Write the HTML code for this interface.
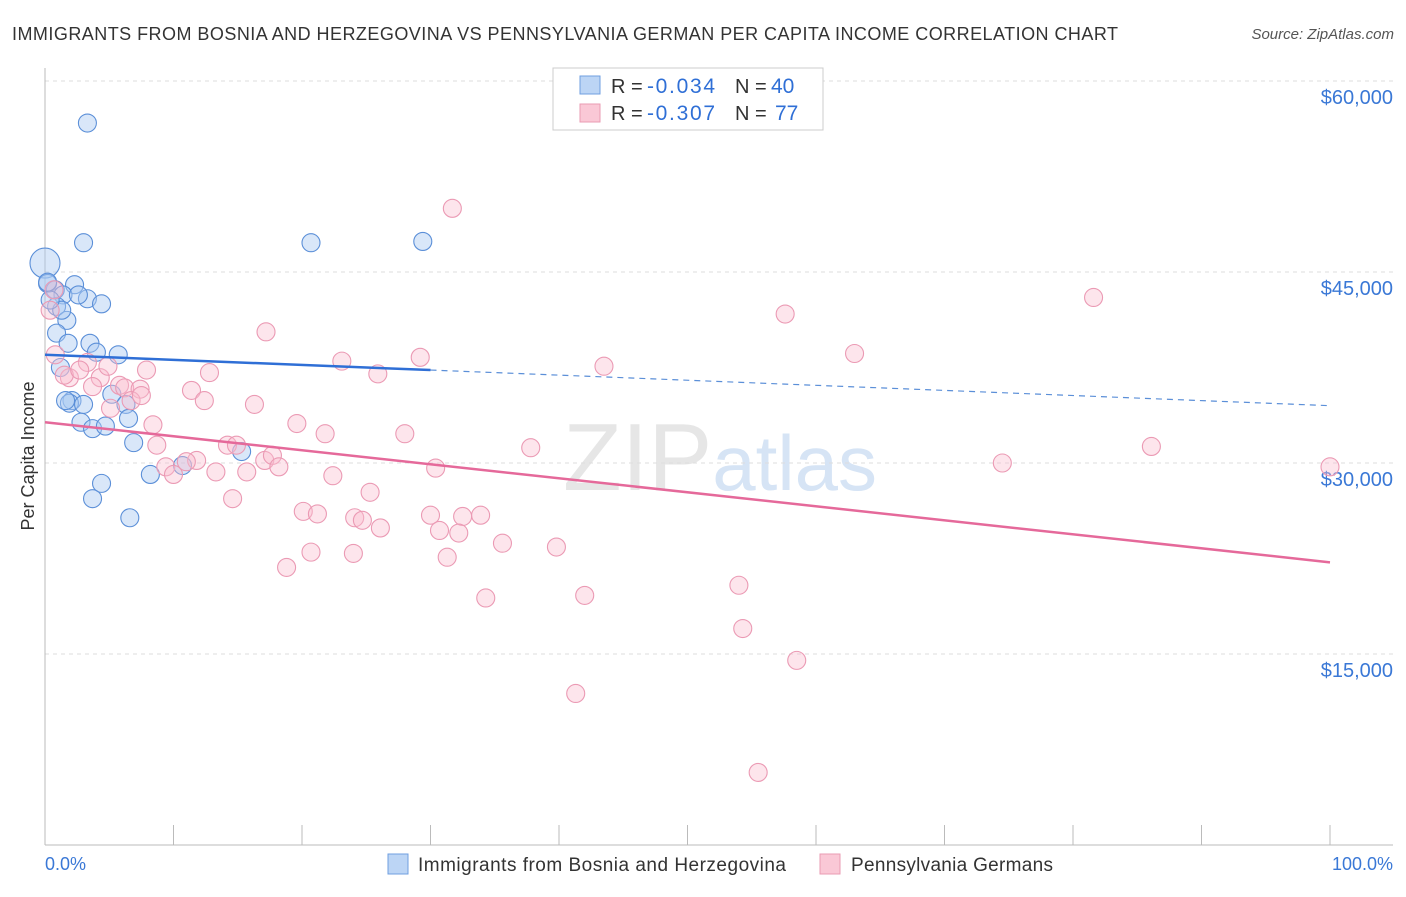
<!DOCTYPE html>
<html><head><meta charset="utf-8"><style>
body{margin:0;background:#fff;font-family:"Liberation Sans",sans-serif}
svg text{font-family:"Liberation Sans",sans-serif}
</style></head><body>
<svg id="c" width="1406" height="892">
<text x="12" y="40" font-size="18" fill="#333" textLength="1106">IMMIGRANTS FROM BOSNIA AND HERZEGOVINA VS PENNSYLVANIA GERMAN PER CAPITA INCOME CORRELATION CHART</text>
<text x="1394" y="39" font-size="15" fill="#555" font-style="italic" text-anchor="end">Source: ZipAtlas.com</text>
<text x="720" y="490" font-size="96" fill="#e6e6e6" text-anchor="middle" font-family="Liberation Serif">ZIP<tspan fill="#d6e4f5" font-family="Liberation Sans" font-size="78">atlas</tspan></text>
<text transform="translate(34,456) rotate(-90)" font-size="18" fill="#333" text-anchor="middle">Per Capita Income</text>
<g id="grid"></g><g id="pts"></g><g id="trend"></g>
<rect x="553" y="68" width="270" height="62" fill="#fff" stroke="#ccc"/>
<rect x="580" y="76" width="20" height="18" fill="#bcd5f5" stroke="#6f9fe0"/>
<rect x="580" y="104" width="20" height="18" fill="#fac8d6" stroke="#ea9bb3"/>
<g font-size="20">
<text x="611" y="93" fill="#333">R =</text><text x="647" y="93" fill="#2f6fd6" font-size="21" textLength="68">-0.034</text>
<text x="735" y="93" fill="#333">N =</text><text x="771" y="93" fill="#2f6fd6" font-size="21">40</text></g>
<g font-size="20">
<text x="611" y="120" fill="#333">R =</text><text x="647" y="120" fill="#2f6fd6" font-size="21" textLength="68">-0.307</text>
<text x="735" y="120" fill="#333">N =</text><text x="775" y="120" fill="#2f6fd6" font-size="21">77</text></g>
<text x="45" y="870" font-size="18" fill="#3a78d6">0.0%</text>
<text x="1393" y="870" font-size="18" fill="#3a78d6" text-anchor="end">100.0%</text>
<rect x="388" y="854" width="20" height="20" fill="#bcd5f5" stroke="#6f9fe0"/>
<text x="418" y="871" font-size="19" fill="#333" textLength="368">Immigrants from Bosnia and Herzegovina</text>
<rect x="820" y="854" width="20" height="20" fill="#fac8d6" stroke="#ea9bb3"/>
<text x="851" y="871" font-size="19" fill="#333" textLength="202">Pennsylvania Germans</text>
</svg>
<script>
const yTicks=[15000,30000,45000,60000];
const yTickLabels=["$15,000","$30,000","$45,000","$60,000"];
const blueX=[3.3,0,3.0,20.7,29.4,0.2,0.8,2.3,1.4,3.3,4.4,0.9,1.7,0.9,1.8,3.5,5.7,4.0,1.2,5.2,2.1,1.9,3.0,6.3,2.8,3.7,4.7,6.5,6.9,15.3,8.2,10.7,4.4,3.7,6.6,1.3,0.2,2.6,0.4,1.6];
const blueY=[56700,45700,47300,47300,47400,44100,43600,44000,43200,42900,42500,42300,41200,40200,39400,39400,38500,38700,37500,35400,34900,34700,34600,34600,33200,32700,32900,33500,31600,30900,29100,29800,28400,27200,25700,42000,44200,43200,42800,34900];
const pinkX=[31.7,81.6,57.6,17.2,63.0,29.2,23.1,43.5,25.9,12.8,0.8,1.9,3.3,4.3,4.9,3.7,5.8,6.2,7.4,7.9,11.4,12.4,16.3,6.7,8.4,19.6,21.8,28.0,37.8,14.2,14.9,8.7,11.8,17.1,17.7,18.2,11.0,9.4,10.0,13.3,15.7,22.4,30.4,25.3,14.6,20.1,21.2,24.1,24.7,26.1,30.0,32.5,33.9,30.7,32.2,35.6,39.8,20.7,24.0,31.3,18.8,54.0,34.3,42.0,54.3,58.5,41.3,55.5,74.5,86.1,100,0.4,0.7,5.1,1.5,2.7,7.5];
const pinkY=[50000,43000,41700,40300,38600,38300,38000,37600,37000,37100,38500,36700,37900,36700,37600,36000,36100,35900,35800,37300,35700,34900,34600,34900,33000,33100,32300,32300,31200,31400,31400,31400,30200,30200,30600,29700,30100,29700,29100,29300,29300,29000,29600,27700,27200,26200,26000,25700,25500,24900,25900,25800,25900,24700,24500,23700,23400,23000,22900,22600,21800,20400,19400,19600,17000,14500,11900,5700,30000,31300,29700,42000,43600,34300,36900,37300,35300];
const blueTrend=[38500,34500];
const pinkTrend=[33200,22200];
const blueSolidEnd=30;
const NS="http://www.w3.org/2000/svg";
const xs=p=>45+p*12.85;
const ys=v=>845-v*382/30000;
function mk(t,a,parent){const e=document.createElementNS(NS,t);for(const k in a)e.setAttribute(k,a[k]);document.getElementById(parent).appendChild(e);return e;}
const g="grid";
yTicks.forEach((v,i)=>{
 const l=mk("line",{x1:45,x2:1393,y1:ys(v),y2:ys(v),stroke:"#ddd","stroke-dasharray":"4,4"},g);
 
 
 const t=mk("text",{x:1393,y:ys(v)+23,"font-size":20,fill:"#3a78d6","text-anchor":"end"},g);
 t.textContent=yTickLabels[i];
 
 
});
const ax=mk("line",{x1:45,x2:1393,y1:845,y2:845,stroke:"#bbb"},g);


const ay=mk("line",{x1:45,x2:45,y1:68,y2:845,stroke:"#bbb"},g);


for(let i=0;i<=10;i++){
 const tk=mk("line",{x1:xs(i*10),x2:xs(i*10),y1:825,y2:845,stroke:"#bbb"},g);
 
 
}
blueX.forEach((x,i)=>{
 const c=mk("circle",{cx:xs(x),cy:ys(blueY[i]),r:(x===0&&blueY[i]>45000)?15:9,fill:"rgba(170,202,242,0.45)",stroke:"#5b8fd8","stroke-width":1.1},"pts");
 
 
});
pinkX.forEach((x,i)=>{
 const c=mk("circle",{cx:xs(x),cy:ys(pinkY[i]),r:9,fill:"rgba(250,190,208,0.4)",stroke:"#eb9ab4","stroke-width":1.1},"pts");
 
 
});
const bAt=p=>blueTrend[0]+(blueTrend[1]-blueTrend[0])*p/100;
const t1=mk("line",{x1:xs(0),y1:ys(bAt(0)),x2:xs(blueSolidEnd),y2:ys(bAt(blueSolidEnd)),stroke:"#2f6fd6","stroke-width":2.5},"trend");


const t2=mk("line",{x1:xs(blueSolidEnd),y1:ys(bAt(blueSolidEnd)),x2:xs(100),y2:ys(bAt(100)),stroke:"#5b8fd8","stroke-width":1.2,"stroke-dasharray":"6,5"},"trend");


const t3=mk("line",{x1:xs(0),y1:ys(pinkTrend[0]),x2:xs(100),y2:ys(pinkTrend[1]),stroke:"#e5699a","stroke-width":2.5},"trend");


</script>
</body></html>
